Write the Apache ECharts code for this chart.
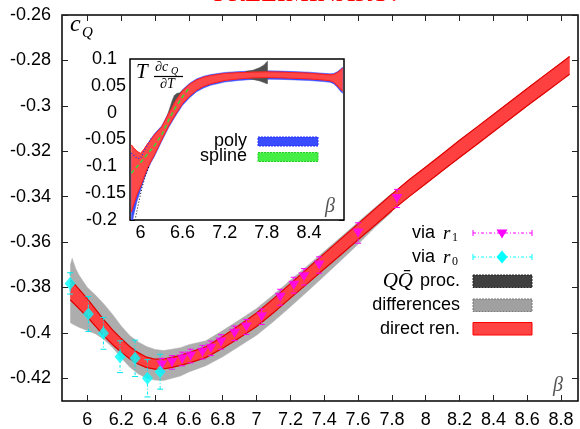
<!DOCTYPE html>
<html><head><meta charset="utf-8">
<script src="https://cdn.jsdelivr.net/npm/echarts@6/dist/echarts.min.js"></script>
<style>html,body{margin:0;padding:0;background:#fff}#c{width:580px;height:429px}</style>
</head><body><div id="c"></div>
<script>
// ---------- main plot data ----------
const mainXTicks = [6,6.2,6.4,6.6,6.8,7,7.2,7.4,7.6,7.8,8,8.2,8.4,8.6,8.8];
const mainYTicks = [-0.42,-0.4,-0.38,-0.36,-0.34,-0.32,-0.3,-0.28,-0.26];
const mainBeta = [5.90,5.95,6.00,6.05,6.10,6.15,6.20,6.25,6.30,6.35,6.40,6.45,6.50,6.55,6.60,6.70,6.80,6.90,7.00,7.10,7.20,7.30,7.40,7.50,7.60,7.70,7.80,7.90,8.00,8.10,8.20,8.30,8.40,8.50,8.60,8.70,8.80,8.85];
const redLo = [-0.3855,-0.3893,-0.3930,-0.3972,-0.4015,-0.4052,-0.4085,-0.4114,-0.4137,-0.4153,-0.4160,-0.4159,-0.4152,-0.4143,-0.4133,-0.4109,-0.4068,-0.4021,-0.3972,-0.3911,-0.3847,-0.3783,-0.3719,-0.3655,-0.3590,-0.3526,-0.3461,-0.3401,-0.3343,-0.3285,-0.3228,-0.3171,-0.3114,-0.3057,-0.3000,-0.2945,-0.2889,-0.2861];
const redHi = [-0.3765,-0.3807,-0.3850,-0.3898,-0.3945,-0.3988,-0.4025,-0.4060,-0.4087,-0.4107,-0.4116,-0.4115,-0.4108,-0.4099,-0.4087,-0.4061,-0.4016,-0.3965,-0.3912,-0.3849,-0.3783,-0.3717,-0.3651,-0.3585,-0.3520,-0.3454,-0.3389,-0.3327,-0.3269,-0.3211,-0.3152,-0.3095,-0.3038,-0.2981,-0.2924,-0.2867,-0.2811,-0.2783];
const grayBeta = [5.90,5.91,5.93,5.95,6.00,6.05,6.10,6.15,6.20,6.25,6.30,6.35,6.40,6.45,6.50,6.55,6.60,6.70,6.80,6.90,7.00,7.10,7.20,7.30,7.40,7.50,7.60,7.70,7.80];
const grayLo = [-0.3955,-0.3960,-0.3968,-0.3975,-0.3990,-0.4005,-0.4030,-0.4065,-0.4110,-0.4150,-0.4180,-0.4200,-0.4208,-0.4210,-0.4200,-0.4190,-0.4172,-0.4145,-0.4105,-0.4058,-0.4010,-0.3950,-0.3885,-0.3818,-0.3750,-0.3680,-0.3610,-0.3535,-0.3468];
const grayHi = [-0.3700,-0.3672,-0.3715,-0.3745,-0.3800,-0.3835,-0.3875,-0.3920,-0.3970,-0.4012,-0.4040,-0.4060,-0.4073,-0.4078,-0.4072,-0.4065,-0.4052,-0.4035,-0.3990,-0.3942,-0.3893,-0.3832,-0.3768,-0.3705,-0.3641,-0.3577,-0.3512,-0.3448,-0.3385];
const r1Beta = [6.44,6.50,6.56,6.61,6.68,6.73,6.79,6.87,6.94,7.03,7.14,7.22,7.28,7.37,7.60,7.83];
const r1Val  = [-0.4142,-0.4130,-0.4115,-0.4102,-0.4085,-0.4068,-0.4040,-0.4002,-0.3974,-0.3929,-0.3843,-0.3790,-0.3753,-0.3701,-0.3560,-0.3408];
const r1Err  = [0.0030,0.0030,0.0030,0.0030,0.0030,0.0032,0.0032,0.0032,0.0033,0.0034,0.0035,0.0035,0.0036,0.0036,0.0045,0.0040];
const r0Beta = [5.898,6.006,6.095,6.193,6.282,6.355,6.430];
const r0Val  = [-0.3782,-0.3917,-0.4002,-0.4105,-0.4112,-0.4200,-0.4171];
const r0Err  = [0.0047,0.0077,0.0070,0.0070,0.0080,0.0082,0.0077];

// ---------- inset data ----------
const insetXTicks = [6,6.6,7.2,7.8,8.4];
const insetYTicks = [-0.2,-0.15,-0.1,-0.05,0,0.05,0.1];
const insetBeta = [5.87,5.90,5.95,6.00,6.05,6.10,6.15,6.20,6.30,6.40,6.50,6.60,6.70,6.80,6.90,7.00,7.20,7.40,7.60,7.80,8.00,8.20,8.40,8.60,8.70,8.75,8.80,8.85,8.88];
const insRedHi = [-0.060,-0.065,-0.072,-0.076,-0.068,-0.058,-0.050,-0.041,-0.027,-0.002,0.022,0.041,0.053,0.061,0.066,0.069,0.073,0.0745,0.0755,0.076,0.0755,0.0745,0.0735,0.0715,0.0705,0.071,0.074,0.079,0.083];
const insRedLo = [-0.185,-0.172,-0.152,-0.137,-0.119,-0.103,-0.090,-0.078,-0.051,-0.025,-0.003,0.017,0.031,0.042,0.049,0.054,0.060,0.063,0.065,0.0655,0.065,0.064,0.063,0.061,0.0595,0.057,0.051,0.044,0.040];
const insBlueHi = [-0.075,-0.079,-0.085,-0.085,-0.072,-0.060,-0.048,-0.039,-0.025,0.000,0.024,0.043,0.055,0.063,0.068,0.071,0.075,0.0765,0.0775,0.078,0.0775,0.0765,0.0755,0.0735,0.0725,0.073,0.076,0.081,0.085];
const insBlueLo = [-0.215,-0.192,-0.165,-0.145,-0.124,-0.107,-0.093,-0.081,-0.054,-0.028,-0.006,0.014,0.028,0.039,0.046,0.051,0.057,0.060,0.062,0.0625,0.062,0.061,0.060,0.058,0.0565,0.054,0.048,0.040,0.036];
const qqBetaA = [6.38,6.42,6.45,6.48,6.52,6.56,6.60,6.65];
const qqHiA   = [-0.006,0.010,0.022,0.032,0.036,0.037,0.042,0.047];
const qqLoA   = [-0.020,-0.012,-0.006,0.000,0.008,0.015,0.020,0.028];
const qqBetaB = [7.50,7.60,7.70,7.76,7.80,7.81];
const qqHiB   = [0.077,0.079,0.084,0.089,0.095,0.096];
const qqLoB   = [0.064,0.062,0.059,0.056,0.054,0.054];
const splineBeta = [5.87,5.90,6.00,6.10,6.20,6.30,6.40,6.50,6.60,6.70];
const splineVal  = [-0.113,-0.108,-0.093,-0.077,-0.061,-0.042,-0.014,0.010,0.030,0.047];
const blackBeta = [5.93,5.97,6.02,6.07,6.12];
const blackVal  = [-0.195,-0.170,-0.140,-0.118,-0.100];

// ---------- helpers ----------
const SANS = 'Liberation Sans';
const SERIF = 'Liberation Serif';
function fmt(v){ return String(+(+v).toFixed(3)); }
function band(xs, lo, hi, fill, stroke, lw, xi, yi, z){
  return {type:'custom', xAxisIndex:xi, yAxisIndex:yi, clip:true, z:z, silent:true,
    data:[[xs[0], lo[0]]], encode:{x:0, y:1},
    renderItem:function(p, api){
      const up = xs.map((x,i)=>api.coord([x, hi[i]]));
      const dn = xs.map((x,i)=>api.coord([x, lo[i]]));
      const ch = [{type:'polygon', shape:{points: up.concat(dn.slice().reverse())},
                   style:{fill:fill, stroke:fill, lineWidth:0.5}}];
      if (stroke) {
        ch.push({type:'polyline', shape:{points:up}, style:{stroke:stroke, lineWidth:lw, fill:null}});
        ch.push({type:'polyline', shape:{points:dn}, style:{stroke:stroke, lineWidth:lw, fill:null}});
      }
      return {type:'group', children:ch};
    }};
}
function errBars(xs, ys, es, color, xi, yi, z){
  return {type:'custom', xAxisIndex:xi, yAxisIndex:yi, clip:true, z:z, silent:true,
    data: xs.map((x,i)=>[x, ys[i], es[i]]), encode:{x:0, y:1},
    renderItem:function(p, api){
      const x = api.value(0), y = api.value(1), e = api.value(2);
      const t = api.coord([x, y+e]), b = api.coord([x, y-e]);
      const w = 3;
      return {type:'group', children:[
        {type:'line', shape:{x1:t[0],y1:t[1],x2:b[0],y2:b[1]}, style:{stroke:color, lineWidth:1, lineDash:[3,2,1,2]}},
        {type:'line', shape:{x1:t[0]-w,y1:t[1],x2:t[0]+w,y2:t[1]}, style:{stroke:color, lineWidth:1}},
        {type:'line', shape:{x1:b[0]-w,y1:b[1],x2:b[0]+w,y2:b[1]}, style:{stroke:color, lineWidth:1}}
      ]};
    }};
}
function xAx(grid, pos, min, max, ticks, showLabel, len, margin){
  return {type:'value', gridIndex:grid, position:pos, min:min, max:max,
    axisLine:{show:false}, splitLine:{show:false},
    axisTick:{show:true, inside:true, length:len, customValues:ticks, lineStyle:{color:'#222', width:1}},
    axisLabel:{show:showLabel, customValues:ticks, formatter:fmt, fontSize:18, fontFamily:SANS, color:'#000', margin:margin}};
}
function yAx(grid, pos, min, max, ticks, showLabel, len, margin, extra){
  const a = {type:'value', gridIndex:grid, position:pos, min:min, max:max,
    axisLine:{show:false}, splitLine:{show:false},
    axisTick:{show:true, inside:true, length:len, customValues:ticks, lineStyle:{color:'#222', width:1}},
    axisLabel:{show:showLabel, customValues:ticks, formatter:fmt, fontSize:18, fontFamily:SANS, color:'#000', margin:margin}};
  if (extra) Object.assign(a.axisLabel, extra);
  return a;
}

const insetLabelExtra = {
  formatter:function(v){
    const s = fmt(v);
    const dec = s.indexOf('.') >= 0 ? s.split('.')[1].length : 0;
    return dec === 2 ? '{n|' + s + '}' : '{p|' + s + '}';
  },
  rich:{
    n:{fontSize:18, fontFamily:SANS, color:'#000'},
    p:{fontSize:18, fontFamily:SANS, color:'#000', padding:[0,9,0,0]}
  }
};

// ---------- graphic texts / legend ----------
const G = [];
function txt(x, y, s, font, fill, align){
  G.push({type:'text', x:x, y:y, z:100, silent:true,
    style:{text:s, font:font, fill:fill||'#000', align:align||'left', verticalAlign:'middle'}});
}
function rect(x, y, w, h, fill, stroke, dash){
  G.push({type:'rect', z:100, silent:true, shape:{x:x, y:y, width:w, height:h},
    style:{fill:fill, stroke:stroke, lineWidth:1, lineDash:dash||null}});
}
function ln(x1, y1, x2, y2, stroke, dash, lw){
  G.push({type:'line', z:100, silent:true, shape:{x1:x1,y1:y1,x2:x2,y2:y2},
    style:{stroke:stroke, lineWidth:lw||1, lineDash:dash||null}});
}
// title (cut off at top)
txt(306, -6, 'PRELIMINARY!', '26px ' + SERIF, '#ff0000', 'center');
// axis labels
txt(70, 25, 'c', 'italic 24px ' + SERIF);
txt(82, 33, 'Q', 'italic 15px ' + SERIF);
txt(553, 386, 'β', 'italic 20px ' + SERIF, '#555');
// inset label T dcQ/dT
txt(136, 72, 'T', 'italic 21px ' + SERIF);
txt(155, 67, '∂c', 'italic 14px ' + SERIF);
txt(171, 71, 'Q', 'italic 10px ' + SERIF);
ln(154, 76.5, 183, 76.5, '#000', null, 1.2);
txt(160, 84, '∂T', 'italic 14px ' + SERIF);
txt(325, 207, 'β', 'italic 20px ' + SERIF, '#555');
// inset legend
txt(247, 141.5, 'poly', '18px ' + SANS, '#000', 'right');
rect(258, 137, 60, 9, '#3a4cff', '#2030ff', [2,1]);
txt(247, 156.5, 'spline', '18px ' + SANS, '#000', 'right');
rect(258, 152.5, 60, 9, '#44ee44', '#22cc22', [2,1]);
// main legend
const legY = [233, 257, 281, 305, 329];
txt(435, legY[0], 'via', '18px ' + SANS, '#000', 'right');
txt(443, legY[0]+1, 'r', 'italic 19px ' + SERIF);
txt(452, legY[0]+5, '1', '12px ' + SERIF);
ln(473, legY[0], 532, legY[0], '#ff00ff', [3,2,1,2]);
ln(473, legY[0]-3, 473, legY[0]+3, '#ff00ff'); ln(532, legY[0]-3, 532, legY[0]+3, '#ff00ff');
G.push({type:'polygon', z:101, silent:true, shape:{points:[[496.5,229.5],[507.5,229.5],[502,238.5]]}, style:{fill:'#ff00ff'}});
txt(435, legY[1], 'via', '18px ' + SANS, '#000', 'right');
txt(443, legY[1]+1, 'r', 'italic 19px ' + SERIF);
txt(452, legY[1]+5, '0', '12px ' + SERIF);
ln(473, legY[1], 532, legY[1], '#00ffff', [3,2,1,2]);
ln(473, legY[1]-3, 473, legY[1]+3, '#00ffff'); ln(532, legY[1]-3, 532, legY[1]+3, '#00ffff');
G.push({type:'polygon', z:101, silent:true, shape:{points:[[502,250.5],[507.5,257],[502,263.5],[496.5,257]]}, style:{fill:'#00ffff'}});
txt(460, legY[2], 'proc.', '18px ' + SANS, '#000', 'right');
txt(413, legY[2], 'QQ̄', 'italic 21px ' + SERIF, '#000', 'right');
rect(473, 275, 59, 12.5, '#404040', '#222', [2,1]);
txt(460, legY[3], 'differences', '18px ' + SANS, '#000', 'right');
rect(473, 299, 59, 12.5, '#a0a0a0', '#777', [2,1]);
txt(460, legY[4], 'direct ren.', '18px ' + SANS, '#000', 'right');
rect(473, 322.5, 59, 12.5, '#ff4444', '#ff0000');

// ---------- chart ----------
const chart = echarts.init(document.getElementById('c'), null, {renderer:'canvas'});
chart.setOption({
  animation:false,
  backgroundColor:'#fff',
  grid:[
    {left:62, top:15, width:516, height:387, show:true, borderColor:'#000', borderWidth:1.5, backgroundColor:'transparent'},
    {left:130, top:59, width:214, height:161, show:true, borderColor:'#000', borderWidth:1.5, backgroundColor:'#fff', z:5}
  ],
  xAxis:[
    xAx(0, 'bottom', 5.85, 8.9, mainXTicks, true, 6, 10),
    xAx(0, 'top', 5.85, 8.9, mainXTicks, false, 6, 10),
    xAx(1, 'bottom', 5.85, 8.9, insetXTicks, true, 5, 4),
    xAx(1, 'top', 5.85, 8.9, insetXTicks, false, 5, 4)
  ],
  yAxis:[
    yAx(0, 'left', -0.43, -0.26, mainYTicks, true, 6, 11),
    yAx(0, 'right', -0.43, -0.26, mainYTicks, false, 6, 11),
    yAx(1, 'left', -0.2, 0.1, insetYTicks, true, 5, 4, insetLabelExtra),
    yAx(1, 'right', -0.2, 0.1, insetYTicks, false, 5, 4)
  ],
  graphic: G,
  series:[
    band(grayBeta, grayLo, grayHi, '#adadad', null, 0, 0, 0, 2),
    band(mainBeta, redLo, redHi, '#ff4040', '#dd0000', 1.2, 0, 0, 3),
    errBars(r1Beta, r1Val, r1Err, '#ff00ff', 0, 0, 4),
    errBars(r0Beta, r0Val, r0Err, '#00e8ee', 0, 0, 4),
    {type:'scatter', xAxisIndex:0, yAxisIndex:0, z:5, silent:true, symbol:'triangle', symbolRotate:180, symbolSize:[11,9],
      itemStyle:{color:'#ff00ff'}, data:r1Beta.map((x,i)=>[x, r1Val[i]])},
    {type:'scatter', xAxisIndex:0, yAxisIndex:0, z:5, silent:true, symbol:'diamond', symbolSize:[11,13],
      itemStyle:{color:'#00ffff'}, data:r0Beta.map((x,i)=>[x, r0Val[i]])},
    // inset
    band(insetBeta, insBlueLo, insBlueHi, '#3a4cff', null, 0, 2, 2, 10),
    band(qqBetaA, qqLoA, qqHiA, '#505050', null, 0, 2, 2, 11),
    band(qqBetaB, qqLoB, qqHiB, '#505050', null, 0, 2, 2, 11),
    band(insetBeta, insRedLo, insRedHi, '#ff4848', '#ff2020', 1, 2, 2, 12),
    {type:'line', xAxisIndex:2, yAxisIndex:2, z:13, silent:true, symbol:'none',
      lineStyle:{color:'#33dd33', width:1.5, type:[4,3]}, data:splineBeta.map((x,i)=>[x, splineVal[i]])},
    {type:'line', xAxisIndex:2, yAxisIndex:2, z:13, silent:true, symbol:'none',
      lineStyle:{color:'#000', width:1, type:[1,2]}, data:blackBeta.map((x,i)=>[x, blackVal[i]])},
    {type:'line', xAxisIndex:2, yAxisIndex:2, z:13, silent:true, symbol:'none',
      lineStyle:{color:'#2030ff', width:1.2, type:[1,2]}, data:insetBeta.slice(0,7).map((x,i)=>[x, insBlueHi[i]])}
  ]
});
</script></body></html>
